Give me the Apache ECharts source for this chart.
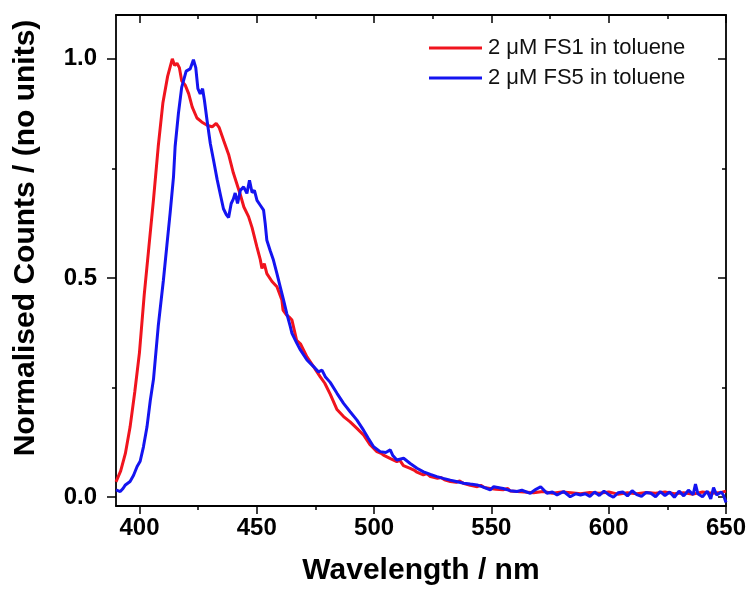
<!DOCTYPE html>
<html>
<head>
<meta charset="utf-8">
<script src="https://cdn.jsdelivr.net/npm/echarts@6/dist/echarts.min.js"></script>
<style>
html,body{margin:0;padding:0;background:#fff;}
#chart{width:749px;height:596px;}
</style>
</head>
<body>
<div id="chart"></div>
<script>
// ---- data ----
var seriesNames = ['2 \u03bcM FS1 in toluene', '2 \u03bcM FS5 in toluene'];

var redX = [390,392,394,396,398,400,402,404,406,408,410,412,414,415,416,417,418,419.5,421,422.5,424.5,426.5,429,431,432.7,434,436,438,440,441.5,443,444.5,446.5,448,450,451.5,452.2,453.2,454.3,456.5,458.6,460.7,461.2,462.8,464,465,467,468.6,471.4,474.2,477,479,481.3,484.2,487,489.8,492.7,495.5,498.4,501.2,503,504,507,509.7,511,512.5,515.4,517,518,521,522.5,524,527,528.5,530,532.5,535,536.5,538,541,544,545.5,547,549.5,552,555,557,558,561,564,568,572,576,580,584,588,592,596,600,604,608,612,616,620,624,628,632,636,640,644,648,650];
var redY = [0.035,0.06,0.1,0.16,0.24,0.33,0.46,0.57,0.68,0.8,0.9,0.96,1.0,0.985,0.99,0.98,0.95,0.94,0.92,0.89,0.865,0.856,0.848,0.845,0.853,0.843,0.812,0.782,0.74,0.715,0.69,0.662,0.64,0.615,0.572,0.542,0.522,0.533,0.51,0.492,0.48,0.45,0.427,0.415,0.41,0.404,0.358,0.35,0.32,0.298,0.275,0.26,0.235,0.2,0.184,0.172,0.157,0.142,0.119,0.104,0.1,0.096,0.088,0.081,0.084,0.072,0.066,0.062,0.058,0.051,0.054,0.047,0.043,0.045,0.04,0.036,0.034,0.037,0.032,0.027,0.024,0.027,0.022,0.02,0.018,0.017,0.02,0.014,0.013,0.012,0.01,0.013,0.009,0.012,0.01,0.008,0.011,0.009,0.012,0.007,0.01,0.008,0.011,0.009,0.012,0.008,0.01,0.007,0.012,0.009,0.011,0.014];

var blueX = [390,391.8,393,394,396,397.5,399,400.3,401.7,403.2,404.6,406,408,410.2,411.7,413.1,414.5,415.2,416.6,418,419.9,421.6,423,424,424.9,425.9,426.9,427.7,428.8,430.2,431.6,433.1,434.5,435.8,437,438,439.1,440,440.8,441.8,443,444.4,445.8,446.9,448,449,450.1,451.5,452.9,453.6,454.3,455.7,457.1,458.6,460,461.4,462.8,464.3,465,467.1,468.6,471.4,474.2,476.3,477.8,479.2,481.3,484.2,487,489.8,492.7,495.5,497.6,499.8,502.6,505,506.9,508,509.7,512.6,515.4,518.3,521.1,524,526.8,529.5,532.5,535,538.2,541,543.9,546,549.5,551,555,558,560.9,563,566.6,569,571,573.7,576,578,580.8,583.6,586,588,590,592,594,596,598,600,602,604,606,608,610,612,614,616,618,620,622,624,626,628,630,632,634,636,637,638,640,642,643.5,644.7,646,648,649,650];
var blueY = [0.017,0.013,0.02,0.028,0.036,0.05,0.07,0.082,0.115,0.16,0.22,0.27,0.39,0.495,0.575,0.65,0.73,0.8,0.875,0.935,0.972,0.977,0.998,0.98,0.932,0.92,0.932,0.905,0.86,0.807,0.768,0.725,0.69,0.658,0.645,0.638,0.67,0.68,0.694,0.67,0.7,0.708,0.693,0.723,0.695,0.7,0.677,0.666,0.655,0.624,0.586,0.563,0.541,0.51,0.48,0.45,0.419,0.389,0.374,0.351,0.336,0.313,0.298,0.286,0.29,0.275,0.262,0.237,0.214,0.195,0.176,0.153,0.134,0.115,0.104,0.102,0.108,0.095,0.085,0.089,0.077,0.066,0.058,0.052,0.047,0.043,0.039,0.036,0.032,0.03,0.028,0.024,0.017,0.024,0.02,0.015,0.013,0.016,0.009,0.018,0.024,0.009,0.012,0.005,0.013,0.001,0.008,0.005,0.008,0.002,0.012,0.004,0.014,0.006,0.0,0.01,0.012,0.003,0.015,0.006,0.002,0.011,0.009,0.001,0.013,0.004,0.012,0.0,0.014,0.003,0.016,0.006,0.03,0.008,0.001,0.014,-0.004,0.022,0.005,0.012,0.004,-0.012];

var xMajorTicks = [400,450,500,550,600,650];
var xMinorTicks = [425,475,525,575,625];
var yMajorTicks = [0,0.5,1.0];
var yMinorTicks = [0.25,0.75];

var xTitle = 'Wavelength / nm';
var yTitle = 'Normalised Counts / (no units)';

// ---- chart ----
var FONT = '"Liberation Sans", Arial, sans-serif';
function pairs(xs, ys){ var out=[]; for(var i=0;i<xs.length;i++){ out.push([xs[i], ys[i]]); } return out; }

var XMIN=390, XMAX=650, YMIN=-0.02, YMAX=1.1;
var lineStyle = {color:'#000', width:1.8};

function xAx(pos, ticks, len, inside, showLine, extra){
  var a = {
    type:'value', position:pos, min:XMIN, max:XMAX, gridIndex:0,
    axisLine:{show:showLine, onZero:false, lineStyle:lineStyle},
    axisTick:{show:true, inside:inside, length:len, customValues:ticks, lineStyle:{color:'#000', width:1.5}},
    axisLabel:{show:false},
    splitLine:{show:false}
  };
  for (var k in extra) a[k]=extra[k];
  return a;
}
function yAx(pos, ticks, len, inside, showLine, extra){
  var a = {
    type:'value', position:pos, min:YMIN, max:YMAX, gridIndex:0,
    axisLine:{show:showLine, onZero:false, lineStyle:lineStyle},
    axisTick:{show:true, inside:inside, length:len, customValues:ticks, lineStyle:{color:'#000', width:1.5}},
    axisLabel:{show:false},
    splitLine:{show:false}
  };
  for (var k in extra) a[k]=extra[k];
  return a;
}

var chart = echarts.init(document.getElementById('chart'), null, {renderer:'canvas'});
var option = {
  backgroundColor:'#fff',
  animation:false,
  grid:{left:116, right:23, top:15, bottom:90, containLabel:false},
  legend:{
    left:429, top:37, orient:'vertical', itemGap:8, padding:0,
    icon:'rect', itemWidth:53, itemHeight:3,
    textStyle:{fontFamily:FONT, fontSize:22, color:'#111', padding:[0,0,0,1]},
    data:seriesNames
  },
  xAxis:[
    xAx('bottom', xMajorTicks, 8, false, true, {
      name:xTitle, nameLocation:'middle', nameGap:50,
      nameTextStyle:{fontFamily:FONT, fontSize:30, fontWeight:'bold', color:'#000'},
      axisLabel:{show:true, customValues:xMajorTicks, margin:10, fontFamily:FONT, fontSize:24, fontWeight:'bold', color:'#000'}
    }),
    xAx('bottom', xMinorTicks, 4, false, false, {}),
    xAx('top', xMajorTicks, 8, true, true, {}),
    xAx('top', xMinorTicks, 4, true, false, {})
  ],
  yAxis:[
    yAx('left', yMajorTicks, 9, false, true, {
      axisLabel:{show:true, customValues:yMajorTicks, margin:19, fontFamily:FONT, fontSize:24, fontWeight:'bold', color:'#000',
        formatter:function(v){ return v.toFixed(1); }}
    }),
    yAx('left', yMinorTicks, 4, false, false, {}),
    yAx('right', yMajorTicks, 8, true, true, {}),
    yAx('right', yMinorTicks, 4, true, false, {})
  ],
  graphic:[{
    type:'text', x:26, y:238, rotation:Math.PI/2,
    style:{text:yTitle, fontFamily:FONT, fontSize:30, fontWeight:'bold', fill:'#000', align:'center', verticalAlign:'middle'}
  }],
  series:[
    {name:seriesNames[0], type:'line', xAxisIndex:0, yAxisIndex:0, data:pairs(redX, redY),
     showSymbol:false, symbol:'none', lineStyle:{color:'#f0141e', width:3}, itemStyle:{color:'#f0141e'}, z:2},
    {name:seriesNames[1], type:'line', xAxisIndex:0, yAxisIndex:0, data:pairs(blueX, blueY),
     showSymbol:false, symbol:'none', lineStyle:{color:'#1414f0', width:3}, itemStyle:{color:'#1414f0'}, z:3}
  ]
};
chart.setOption(option);
</script>
</body>
</html>
